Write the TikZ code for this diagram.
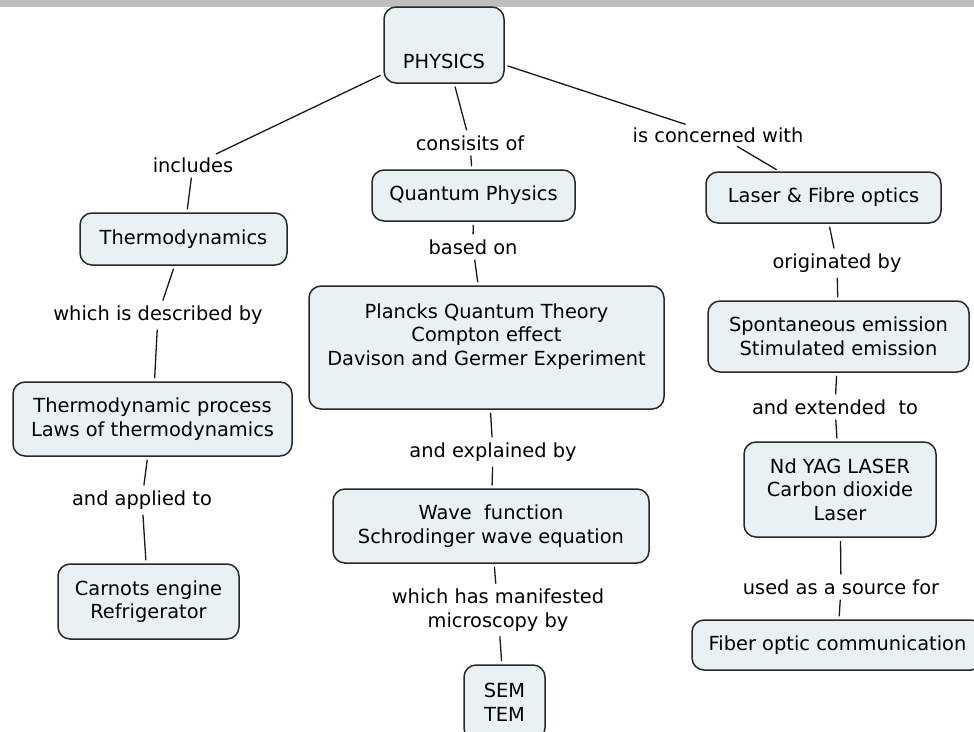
\documentclass[tikz,border=0pt]{standalone}
\usepackage{fontspec}
\setmainfont{DejaVu Sans}
\usepackage{tikz}
\definecolor{boxfill}{RGB}{233,241,244}
\definecolor{boxline}{RGB}{40,40,40}
\definecolor{linkcol}{RGB}{25,25,25}
\begin{document}
\begin{tikzpicture}[x=1pt,y=-1pt,
  concept/.style={draw=boxline, fill=boxfill, line width=1.5pt, rounded corners=12pt, align=center, inner sep=0pt},
  linkword/.style={align=center, inner sep=2pt},
  link/.style={draw=linkcol, line width=1.3pt, shorten <=3pt, shorten >=3pt},
  font=\fontsize{19.4}{23.5}\selectfont]
\useasboundingbox (0,0) rectangle (974,731);
\clip (0,0) rectangle (974,731);
\fill[gray!50] (0,0) rectangle (974,6.5);

\node[concept, minimum width=120pt, minimum height=76pt, text height=46pt, text depth=0pt] (physics) at (444,45) {PHYSICS};

\node[linkword] (includes) at (193,165) {includes};
\node[concept, minimum width=207pt, minimum height=52pt] (thermo) at (183.5,239) {Thermodynamics};
\node[linkword] (described) at (158,315) {which is described by};
\node[concept, minimum width=279pt, minimum height=74pt] (process) at (152.5,419) {Thermodynamic process\\Laws of thermodynamics};
\node[linkword] (applied) at (142,500) {and applied to};
\node[concept, minimum width=181pt, minimum height=75pt] (carnot) at (148.5,601.5) {Carnots engine\\Refrigerator};

\node[linkword] (consists) at (470,143) {consisits of};
\node[concept, minimum width=203pt, minimum height=51pt] (quantum) at (473.5,195.5) {Quantum Physics};
\node[linkword] (basedon) at (473,247) {based on};
\node[concept, minimum width=355pt, minimum height=123pt, text depth=26pt] (planck) at (486.5,347.5) {Plancks Quantum Theory\\Compton effect\\Davison and Germer Experiment};
\node[linkword] (explained) at (493,452) {and explained by};
\node[concept, minimum width=316pt, minimum height=74pt] (wave) at (491,526) {Wave~ function\\Schrodinger wave equation};
\node[linkword] (manifest) at (498,610) {which has manifested\\microscopy by};
\node[concept, minimum width=81pt, minimum height=75pt] (semtem) at (504.5,702.5) {SEM\\TEM};

\node[linkword] (concerned) at (718,135) {is concerned with};
\node[concept, minimum width=235pt, minimum height=51pt] (laser) at (823.5,197.5) {Laser \& Fibre optics};
\node[linkword] (originated) at (837,263) {originated by};
\node[concept, minimum width=261pt, minimum height=71pt] (emission) at (838.5,336.5) {Spontaneous emission\\Stimulated emission};
\node[linkword] (extended) at (835,407) {and extended~ to};
\node[concept, minimum width=192pt, minimum height=95pt] (ndyag) at (840,489.5) {Nd YAG LASER\\Carbon dioxide\\Laser};
\node[linkword] (source) at (841,587) {used as a source for};
\node[concept, minimum width=291pt, minimum height=50pt] (fiber) at (837.5,645) {Fiber optic communication};

\draw[link] (physics) -- (includes);
\draw[link] (includes) -- (thermo);
\draw[link] (thermo) -- (described);
\draw[link] (described) -- (process);
\draw[link] (process) -- (applied);
\draw[link] (applied) -- (carnot);

\draw[link] (physics) -- (consists);
\draw[link] (consists) -- (quantum);
\draw[link] (quantum) -- (basedon);
\draw[link] (basedon) -- (planck);
\draw[link] (planck) -- (explained);
\draw[link] (explained) -- (wave);
\draw[link] (wave) -- (manifest);
\draw[link] (manifest) -- (semtem);

\draw[link] (physics) -- (concerned);
\draw[link] (concerned) -- (laser);
\draw[link] (laser) -- (originated);
\draw[link] (originated) -- (emission);
\draw[link] (emission) -- (extended);
\draw[link] (extended) -- (ndyag);
\draw[link] (ndyag) -- (source);
\draw[link] (source) -- (fiber);
\end{tikzpicture}
\end{document}
